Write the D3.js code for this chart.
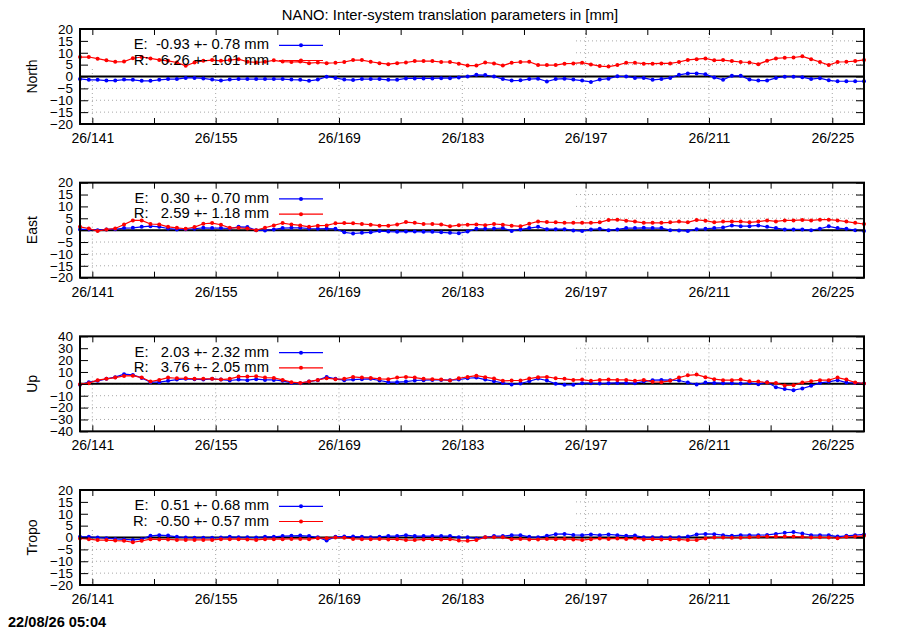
<!DOCTYPE html>
<html>
<head>
<meta charset="utf-8">
<script src="https://cdn.jsdelivr.net/npm/d3@7/dist/d3.min.js"></script>
<style>
    body { margin: 0; background: #fff; }
    text { font-family: "Liberation Sans", Arial, sans-serif; }
</style>
</head>
<body>
<div id="chart"></div>
<script>
// daily solutions, first epoch a bit before doy 141
const firstDay = 139.6;
const yearTag = "26/";
const xTickDays = [141, 148, 155, 162, 169, 176, 183, 190, 197, 204, 211, 218, 225];
const xLabelDays = [141, 155, 169, 183, 197, 211, 225];

const panelNames = ["North", "East", "Up", "Tropo"];
const yLimits = [20, 20, 40, 20];
const yTickSteps = [5, 5, 10, 5];

const eStats = ["E:  -0.93 +- 0.78 mm", "E:   0.30 +- 0.70 mm", "E:   2.03 +- 2.32 mm", "E:   0.51 +- 0.68 mm"];
const rStats = ["R:   6.26 +- 1.01 mm", "R:   2.59 +- 1.18 mm", "R:   3.76 +- 2.05 mm", "R:  -0.50 +- 0.57 mm"];

const northE = [-1.0, -1.4, -1.4, -1.7, -1.7, -1.3, -1.4, -1.8, -1.8, -1.4, -1.1, -1.1, -0.6, -0.6, -0.8, -1.3, -1.7, -1.3, -1.1, -1.1,
    -1.1, -1.1, -1.1, -1.1, -1.3, -1.4, -1.8, -1.3, -0.1, -0.6, -1.3, -1.5, -1.1, -1.1, -1.1, -1.4, -1.4, -0.8, -0.8, -0.8,
    -0.8, -0.7, -0.7, -0.4, 0.0, 0.7, 0.6, 0.0, -1.1, -1.7, -1.6, -1.1, -0.9, -2.1, -1.1, -0.9, -1.3, -1.7, -2.3, -1.3,
    -0.9, 0.1, 0.0, -0.6, -0.6, -1.4, -1.1, -0.6, 0.7, 1.3, 1.3, 1.0, -0.4, -1.4, 0.3, 0.3, -1.3, -1.7, -1.7, -0.6,
    -0.1, -0.1, -0.3, -1.1, -0.7, -1.6, -2.0, -2.0, -2.0, -2.0];
const northR = [8.2, 8.2, 7.5, 6.8, 6.2, 6.3, 7.7, 8.2, 7.6, 7.0, 6.6, 5.9, 4.5, 5.9, 6.6, 6.9, 6.6, 6.9, 7.3, 6.2,
    5.9, 6.2, 6.8, 6.3, 6.1, 6.3, 5.6, 5.9, 5.6, 5.8, 6.1, 6.9, 6.9, 6.2, 5.6, 5.2, 5.6, 5.9, 6.5, 6.5,
    6.5, 6.1, 6.1, 5.4, 4.6, 4.6, 5.9, 5.5, 4.6, 5.8, 6.1, 6.2, 4.8, 4.8, 4.8, 5.4, 5.5, 5.8, 5.1, 4.4,
    4.2, 4.8, 5.8, 5.8, 5.4, 5.4, 5.5, 5.5, 6.1, 7.0, 7.3, 7.6, 6.8, 6.9, 6.5, 6.1, 5.9, 5.2, 6.6, 7.6,
    7.9, 8.0, 8.5, 7.3, 6.1, 4.8, 6.1, 6.2, 6.5, 7.0];

const eastE = [0.3, 0.3, 0.0, 0.3, 0.4, 0.9, 1.0, 1.4, 1.7, 1.4, 0.7, 0.3, 0.4, 0.6, 1.0, 0.9, 0.9, 0.7, 1.4, 1.3,
    0.0, -0.1, 0.3, 0.9, 1.0, 1.0, 0.7, 0.6, 0.7, 0.6, -0.9, -1.4, -1.1, -0.9, -0.4, -0.6, -0.7, -0.6, -0.6, -0.7,
    -0.7, -0.9, -1.1, -1.3, -0.6, 0.6, 0.6, 0.7, 0.9, -0.3, 0.3, 0.9, 1.4, 0.4, 0.4, 0.4, -0.1, -0.4, 0.3, 0.6,
    0.0, 0.3, 0.9, 0.9, 1.0, 0.9, 0.9, 0.0, -0.1, -0.4, 0.4, 0.6, 0.9, 1.1, 2.0, 1.7, 1.7, 2.0, 1.4, 0.9,
    0.3, 0.3, 0.3, 0.0, 0.6, 1.6, 0.9, 0.6, 0.0, -0.3];
const eastR = [1.4, 0.7, -0.4, 0.3, 0.7, 2.4, 4.1, 4.1, 2.6, 2.4, 1.4, 1.0, 0.6, 1.3, 2.7, 3.0, 2.3, 1.0, 1.0, 0.7,
    0.0, 1.0, 2.0, 3.0, 2.4, 2.0, 1.4, 1.9, 2.0, 2.9, 3.0, 2.9, 2.6, 2.3, 1.9, 1.9, 2.4, 3.4, 3.1, 2.6,
    2.6, 2.4, 1.6, 2.1, 2.3, 2.4, 2.1, 2.6, 2.3, 1.9, 1.6, 2.7, 3.7, 3.4, 3.3, 3.1, 3.1, 3.1, 3.1, 3.3,
    4.3, 4.4, 4.0, 3.6, 3.1, 3.1, 3.1, 3.3, 3.6, 3.3, 4.3, 4.0, 3.3, 3.6, 3.7, 3.6, 3.3, 3.6, 4.1, 3.7,
    4.1, 4.1, 4.3, 4.1, 4.4, 4.4, 4.1, 3.6, 3.1, 2.6];

const upE = [-0.8, 1.4, 2.5, 4.2, 5.6, 8.1, 7.5, 5.0, 1.4, 1.4, 2.5, 3.6, 4.2, 3.9, 3.6, 4.2, 3.6, 2.8, 3.6, 3.1,
    3.9, 3.3, 3.3, 2.5, 0.8, 0.6, 1.9, 3.1, 5.8, 4.2, 3.1, 3.6, 3.9, 4.2, 2.8, 1.4, 1.4, 1.9, 2.8, 3.1,
    3.3, 3.3, 3.1, 3.6, 4.7, 5.3, 3.6, 2.2, 0.8, -0.6, 0.3, 2.2, 4.4, 2.8, 0.0, -0.8, -0.8, 0.6, 0.6, 0.3,
    0.6, 0.8, 0.8, 0.6, 1.9, 3.1, 3.3, 3.1, 2.8, 1.1, -0.6, 1.1, 0.8, 0.6, 0.6, 0.3, 0.8, -0.3, 1.4, -2.8,
    -4.4, -5.3, -3.9, -1.7, 0.8, 1.7, 3.1, 1.1, 0.8, 0.3];
const upR = [-0.3, 0.6, 3.1, 4.2, 5.3, 6.7, 6.9, 5.3, 1.9, 3.3, 5.3, 4.7, 4.7, 4.2, 4.2, 4.2, 3.6, 4.2, 6.1, 6.1,
    6.4, 5.3, 5.0, 3.3, 1.4, 0.8, 1.9, 3.3, 4.7, 3.9, 4.2, 5.8, 5.3, 5.0, 4.2, 3.9, 5.3, 5.8, 5.3, 4.2,
    3.9, 3.6, 2.8, 4.7, 5.8, 6.9, 5.6, 4.4, 2.5, 2.8, 2.8, 4.4, 5.6, 5.8, 4.7, 4.2, 3.3, 3.6, 2.5, 3.3,
    3.6, 3.3, 3.3, 2.5, 3.3, 1.7, 1.4, 2.5, 5.3, 7.2, 7.8, 5.6, 3.9, 3.1, 3.1, 3.6, 2.2, 1.9, 1.1, 0.8,
    -1.4, -1.1, 1.1, 2.2, 3.1, 3.1, 5.3, 3.6, 1.1, 0.3];

const tropoE = [0.3, 0.3, 0.0, -0.3, -0.6, -0.8, -1.0, -0.7, 0.7, 1.0, 0.8, 0.3, 0.0, -0.1, -0.1, -0.1, 0.0, 0.3, 0.1, 0.1,
    0.0, 0.3, 0.3, 0.6, 0.7, 0.8, 0.6, 0.1, -1.3, 0.3, 0.4, 0.4, 0.3, 0.1, 0.3, 0.6, 0.6, 1.0, 0.6, 0.6,
    0.6, 0.6, 0.6, 0.1, 0.1, -0.4, 0.1, 0.6, 0.6, 1.0, 1.0, 0.3, 0.1, 0.7, 1.4, 1.5, 1.1, 1.0, 1.3, 1.0,
    1.3, 1.0, 0.7, 0.8, 0.1, 0.1, 0.1, 0.1, 0.1, 0.4, 1.3, 1.5, 1.4, 1.0, 0.7, 1.0, 1.0, 1.0, 1.1, 1.5,
    2.0, 2.3, 1.7, 1.0, 1.0, 1.0, 0.4, 0.7, 1.0, 1.3];
const tropoR = [-0.4, -0.7, -1.1, -1.1, -1.3, -1.4, -2.0, -1.4, -0.7, -0.8, -0.8, -1.0, -1.0, -1.0, -1.0, -1.0, -0.7, -0.7, -0.7, -0.8,
    -1.0, -0.7, -0.7, -0.7, -0.6, -0.6, -0.7, -0.3, -0.3, 0.0, -0.1, -0.6, -0.7, -0.7, -0.6, -0.8, -0.7, -1.1, -1.1, -0.8,
    -0.7, -0.8, -0.7, -1.3, -1.4, -1.1, 0.1, 0.1, 0.1, -0.7, -0.6, -0.8, -0.8, -0.6, -0.7, -0.6, -0.8, -1.1, -0.7, -0.4,
    -0.6, -0.4, -0.6, -0.4, -0.8, -0.7, -0.8, -0.7, -0.8, -1.1, -1.1, -0.4, 0.0, 0.0, -0.1, -0.1, 0.1, 0.3, 0.4, 0.4,
    0.4, 0.4, 0.3, 0.0, 0.1, 0.0, -0.3, 0.3, 0.4, 0.7];

const eSeries = [northE, eastE, upE, tropoE];
const rSeries = [northR, eastR, upR, tropoR];

window.onload = function() {
    const width = 900;
    const height = 630;
    const marginLeft = 80;
    const chartWidth = 784;
    const chartHeight = 95;
    const firstTop = 29;
    const panelStep = 153.67;
    const keyRight = 573 - marginLeft;
    const blue = '#0000ff';
    const red = '#ff0000';

    let svg = d3.select('#chart')
        .append('svg')
            .attr('width', width)
            .attr('height', height)
            .style('font-size', '14px');

    // title
    svg.append('text')
        .attr('x', 450)
        .attr('y', 20)
        .attr('text-anchor', 'middle')
        .style('font-size', '14.8px')
        .text('NANO: Inter-system translation parameters in [mm]');

    // time stamp bottom left
    svg.append('text')
        .attr('x', 8)
        .attr('y', 627)
        .style('font-weight', 'bold')
        .style('font-size', '14.6px')
        .text('22/08/26 05:04');

    const lastDay = firstDay + eSeries[0].length - 1;
    const xScale = d3.scaleLinear()
        .domain([firstDay, lastDay])
        .range([0, chartWidth]);

    function drawPanel(p) {
        const top = firstTop + p * panelStep;
        const lim = yLimits[p];
        const yTicks = d3.range(-lim, lim + 0.001, yTickSteps[p]);

        const yScale = d3.scaleLinear()
            .domain([-lim, lim])
            .range([chartHeight, 0]);

        let g = svg.append('g')
            .attr('transform', `translate(${marginLeft}, ${top})`);

        // y label
        svg.append('text')
            .attr('transform', `translate(32, ${top + chartHeight / 2}) rotate(-90)`)
            .attr('text-anchor', 'middle')
            .attr('dy', '.35em')
            .text(panelNames[p]);

        // dotted grid
        g.selectAll('.hgrid')
            .data(yTicks.slice(1, -1))
            .enter()
                .append('line')
                    .attr('x1', 0)
                    .attr('x2', chartWidth)
                    .attr('y1', (d) => yScale(d))
                    .attr('y2', (d) => yScale(d))
                    .attr('stroke', '#a8a8a8')
                    .attr('stroke-dasharray', '1,3');

        g.selectAll('.vgrid')
            .data(xLabelDays)
            .enter()
                .append('line')
                    .attr('x1', (d) => xScale(d))
                    .attr('x2', (d) => xScale(d))
                    .attr('y1', 0)
                    .attr('y2', chartHeight)
                    .attr('stroke', '#a8a8a8')
                    .attr('stroke-dasharray', '1,3');

        // key area hides the grid behind it
        g.append('rect')
            .attr('x', 1)
            .attr('y', 1)
            .attr('width', keyRight)
            .attr('height', 39)
            .attr('fill', '#fff');

        // zero line
        g.append('line')
            .attr('x1', 0)
            .attr('x2', chartWidth)
            .attr('y1', yScale(0))
            .attr('y2', yScale(0))
            .attr('stroke', '#000')
            .attr('stroke-width', 2);

        // series
        const series = [[eSeries[p], blue], [rSeries[p], red]];
        series.forEach(function(s) {
            const values = s[0];
            const line = d3.line()
                .x((d, i) => xScale(firstDay + i))
                .y((d) => yScale(d));

            g.append('path')
                .datum(values)
                .attr('d', line)
                .attr('fill', 'none')
                .attr('stroke', s[1])
                .attr('stroke-width', 1.2);

            g.selectAll(null)
                .data(values)
                .enter()
                    .append('circle')
                        .attr('cx', (d, i) => xScale(firstDay + i))
                        .attr('cy', (d) => yScale(d))
                        .attr('r', 2)
                        .attr('fill', s[1]);
        });

        // axes with inward ticks
        let xAxis = g.append('g')
            .attr('transform', `translate(0, ${chartHeight})`)
            .call(d3.axisBottom(xScale)
                .tickValues(xTickDays)
                .tickSize(-6)
                .tickPadding(9)
                .tickFormat((d) => xLabelDays.includes(d) ? yearTag + d : ''));

        let xTop = g.append('g')
            .call(d3.axisTop(xScale)
                .tickValues(xTickDays)
                .tickSize(-6)
                .tickFormat(''));

        let yAxis = g.append('g')
            .call(d3.axisLeft(yScale)
                .tickValues(yTicks)
                .tickSize(-8)
                .tickPadding(7));

        let yRight = g.append('g')
            .attr('transform', `translate(${chartWidth}, 0)`)
            .call(d3.axisRight(yScale)
                .tickValues(yTicks)
                .tickSize(-8)
                .tickFormat(''));

        [xAxis, xTop, yAxis, yRight].forEach(function(a) {
            a.select('.domain').remove();
            a.selectAll('text')
                .attr('fill', '#000')
                .style('font-size', '14px')
                .style('font-family', '"Liberation Sans", Arial, sans-serif');
            a.selectAll('line').attr('stroke', '#000');
        });
        yAxis.selectAll('text').style('font-size', '13.5px');

        // border
        g.append('rect')
            .attr('width', chartWidth)
            .attr('height', chartHeight)
            .attr('fill', 'none')
            .attr('stroke', '#000')
            .attr('stroke-width', 2);

        // key
        const keyRows = [[eStats[p], blue, 16.3], [rStats[p], red, 31.5]];
        keyRows.forEach(function(k) {
            g.append('text')
                .attr('x', 269 - marginLeft)
                .attr('y', k[2] + 4)
                .attr('text-anchor', 'end')
                .style('white-space', 'pre')
                .style('font-size', '14.8px')
                .text(k[0]);
            g.append('line')
                .attr('x1', 279 - marginLeft)
                .attr('x2', 323 - marginLeft)
                .attr('y1', k[2])
                .attr('y2', k[2])
                .attr('stroke', k[1])
                .attr('stroke-width', 1.2);
            g.append('circle')
                .attr('cx', 301 - marginLeft)
                .attr('cy', k[2])
                .attr('r', 2)
                .attr('fill', k[1]);
        });
    }

    for (let p = 0; p < panelNames.length; p++) {
        drawPanel(p);
    }
};
</script>
</body>
</html>
